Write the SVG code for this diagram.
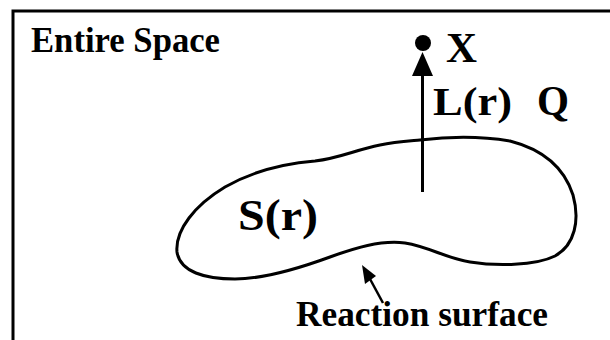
<svg xmlns="http://www.w3.org/2000/svg" width="610" height="340" viewBox="0 0 610 340">
<style>
.ln{stroke:#000;fill:none;stroke-linecap:butt}
</style>
<rect width="610" height="340" fill="#fff"/>
<g font-family="'Liberation Serif', 'DejaVu Serif', serif" font-weight="bold" fill="#000">
<g id="space">
<path class="ln" d="M13,340 V11 H610" stroke-width="3"/>
<text x="31" y="52" font-size="35" textLength="189" lengthAdjust="spacingAndGlyphs">Entire Space</text>
</g>
<g id="surface">
<path class="ln" stroke-width="3" d="M420,140 C445,137 480,136 510,141 C545,150 565,170 573,195 C580,220 575,245 555,256 C535,266 495,266 470,262 C445,258 430,247 405,243 C380,240 355,248 330,257 C300,268 265,279 235,279 C205,279 180,272 177,252 C175,230 195,205 225,187 C255,170 290,163 315,161 C340,158 355,150 380,145 C395,142 410,141 420,140 Z"/>
<text x="238" y="230" font-size="44" textLength="80" lengthAdjust="spacingAndGlyphs">S(r)</text>
</g>
<g id="pointX">
<circle cx="423" cy="43" r="8" fill="#000"/>
<text x="446" y="62" font-size="42" textLength="31" lengthAdjust="spacingAndGlyphs">X</text>
</g>
<g id="labelL">
<text x="433" y="115" font-size="40" textLength="79" lengthAdjust="spacingAndGlyphs">L(r)</text>
<text x="537" y="115" font-size="42" textLength="32" lengthAdjust="spacingAndGlyphs">Q</text>
</g>
<g id="labelReaction">
<text x="296" y="326" font-size="35" textLength="252" lengthAdjust="spacingAndGlyphs">Reaction  surface</text>
</g>
</g>
<g id="connectors">
<line class="ln" x1="422.5" y1="74" x2="422.5" y2="192" stroke-width="3"/>
<polygon points="422.5,52 412,76 433,76" fill="#000"/>
<line class="ln" x1="383" y1="303" x2="370" y2="279" stroke-width="2.5"/>
<polygon points="362,265 365,284 376,276" fill="#000"/>
</g>
</svg>
